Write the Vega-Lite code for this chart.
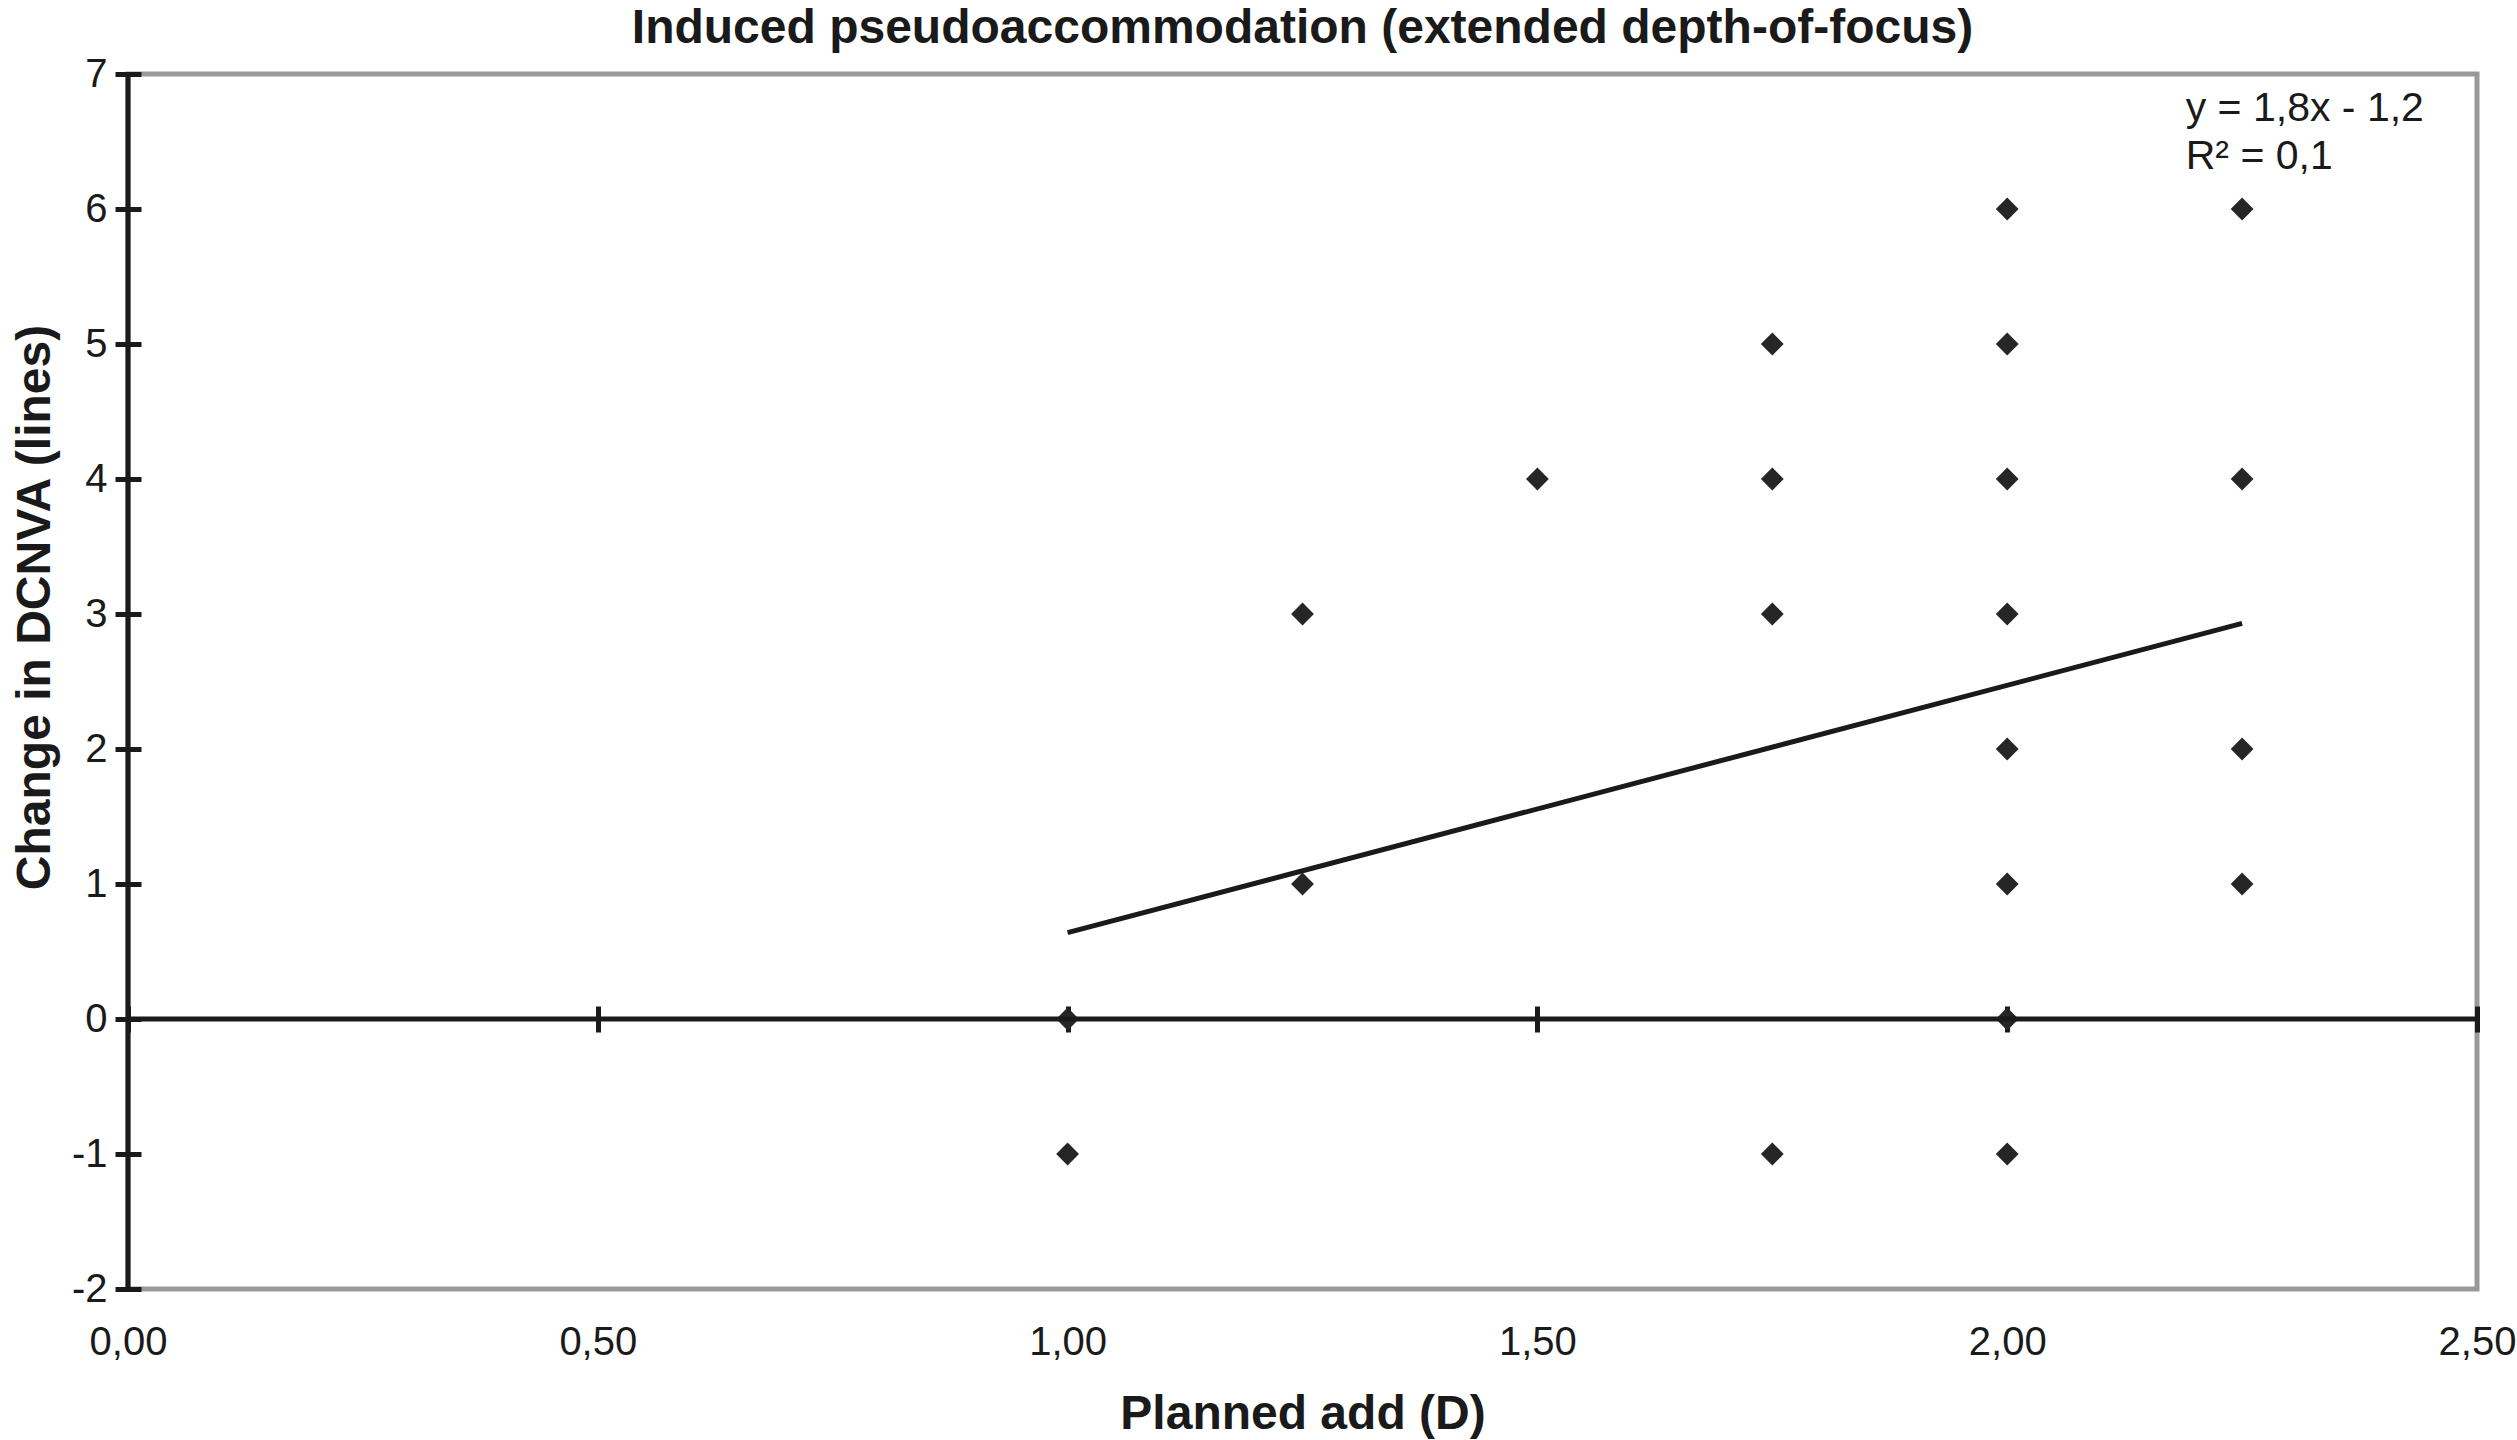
{
  "$schema": "https://vega.github.io/schema/vega-lite/v6.json",
  "width": 2349,
  "height": 1215,
  "autosize": {"type": "none"},
  "padding": {"left": 128, "top": 74, "right": 40, "bottom": 151},
  "background": "white",
  "title": {
    "text": "Induced pseudoaccommodation (extended depth-of-focus)",
    "font": "Liberation Sans",
    "fontSize": 48,
    "fontWeight": "bold",
    "color": "#1a1a1a",
    "anchor": "middle",
    "baseline": "bottom",
    "offset": -47
  },
  "config": {
    "font": "Liberation Sans",
    "view": {"stroke": "#999999", "strokeWidth": 5}
  },
  "resolve": {"axis": {"x": "independent"}},
  "datasets": {
    "points": [
      {"add": 1.00, "change": 0},
      {"add": 1.00, "change": -1},
      {"add": 1.25, "change": 3},
      {"add": 1.25, "change": 1},
      {"add": 1.50, "change": 4},
      {"add": 1.75, "change": 5},
      {"add": 1.75, "change": 4},
      {"add": 1.75, "change": 3},
      {"add": 1.75, "change": -1},
      {"add": 2.00, "change": 6},
      {"add": 2.00, "change": 5},
      {"add": 2.00, "change": 4},
      {"add": 2.00, "change": 3},
      {"add": 2.00, "change": 2},
      {"add": 2.00, "change": 1},
      {"add": 2.00, "change": 0},
      {"add": 2.00, "change": -1},
      {"add": 2.25, "change": 6},
      {"add": 2.25, "change": 4},
      {"add": 2.25, "change": 2},
      {"add": 2.25, "change": 1}
    ],
    "trend": [
      {"add": 1.00, "change": 0.64},
      {"add": 2.25, "change": 2.93}
    ]
  },
  "layer": [
    {
      "data": {"name": "points"},
      "mark": {"type": "point", "shape": "diamond", "filled": true, "size": 520, "color": "#262626", "opacity": 1},
      "encoding": {
        "x": {
          "field": "add",
          "type": "quantitative",
          "title": "Planned add (D)",
          "scale": {"domain": [0, 2.5], "nice": false},
          "axis": {
            "orient": "bottom",
            "values": [0, 0.5, 1, 1.5, 2, 2.5],
            "domain": false,
            "grid": false,
            "ticks": false,
            "tickSize": 0,
            "labelPadding": 33,
            "labelFontSize": 40,
            "labelColor": "#1a1a1a",
            "labelFlush": false,
            "labelOverlap": false,
            "labelExpr": "replace(format(datum.value, '.2f'), '.', ',')",
            "titleFontSize": 48,
            "titleFontWeight": "bold",
            "titleColor": "#1a1a1a",
            "titlePadding": 28
          }
        },
        "y": {
          "field": "change",
          "type": "quantitative",
          "title": "Change in DCNVA (lines)",
          "scale": {"domain": [-2, 7], "nice": false},
          "axis": {
            "values": [-2, -1, 0, 1, 2, 3, 4, 5, 6, 7],
            "offset": -13,
            "domain": false,
            "grid": false,
            "tickSize": 26,
            "tickWidth": 5,
            "tickColor": "#1a1a1a",
            "labelPadding": 8,
            "labelFontSize": 40,
            "labelColor": "#1a1a1a",
            "labelFlush": false,
            "labelOverlap": false,
            "labelExpr": "toString(datum.value)",
            "titleFontSize": 48,
            "titleFontWeight": "bold",
            "titleColor": "#1a1a1a",
            "titlePadding": 12,
            "titleY": 533
          }
        }
      }
    },
    {
      "data": {"name": "trend"},
      "mark": {"type": "line", "color": "#1a1a1a", "strokeWidth": 5},
      "encoding": {
        "x": {
          "field": "add",
          "type": "quantitative",
          "scale": {"domain": [0, 2.5], "nice": false},
          "axis": {
            "orient": "bottom",
            "values": [0, 0.5, 1, 1.5, 2, 2.5],
            "offset": {"expr": "scale('y', 0) - height - 13"},
            "domain": false,
            "grid": false,
            "labels": false,
            "ticks": true,
            "tickSize": 26,
            "tickWidth": 5,
            "tickColor": "#1a1a1a",
            "title": null
          }
        },
        "y": {"field": "change", "type": "quantitative", "title": "Change in DCNVA (lines)", "scale": {"domain": [-2, 7], "nice": false}}
      }
    },
    {
      "data": {"values": [{}]},
      "mark": {"type": "rule", "color": "#1a1a1a", "strokeWidth": 5},
      "encoding": {"y": {"datum": 0, "type": "quantitative"}}
    },
    {
      "data": {"values": [{}]},
      "mark": {"type": "rule", "color": "#1a1a1a", "strokeWidth": 5},
      "encoding": {"x": {"datum": 0, "type": "quantitative", "axis": null}}
    },
    {
      "data": {"values": [{}]},
      "mark": {
        "type": "text",
        "align": "left",
        "baseline": "alphabetic",
        "fontSize": 41,
        "lineHeight": 48,
        "color": "#1a1a1a",
        "text": ["y = 1,8x - 1,2", "R² = 0,1"]
      },
      "encoding": {
        "x": {"datum": 2.19, "type": "quantitative", "axis": null},
        "y": {"datum": 6.65, "type": "quantitative"}
      }
    }
  ]
}
